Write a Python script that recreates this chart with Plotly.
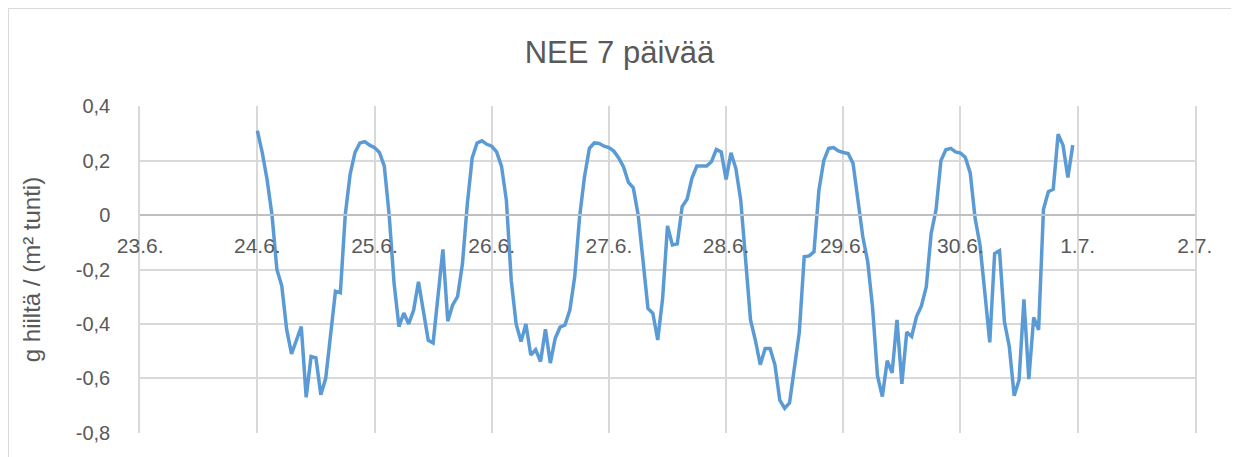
import pandas as pd
import plotly.graph_objects as go

# Hourly NEE values, 24.6. 00:00 -> 30.6. 23:00
nee = [
    0.31, 0.23, 0.13, 0.0, -0.2, -0.26, -0.42, -0.51, -0.46, -0.41,
    -0.67, -0.52, -0.525, -0.66, -0.6, -0.44, -0.28, -0.285, 0.0, 0.15,
    0.23, 0.265, 0.27, 0.257, 0.248, 0.23, 0.18, 0.0, -0.25, -0.41,
    -0.36, -0.40, -0.35, -0.245, -0.36, -0.46, -0.47, -0.30, -0.126, -0.39,
    -0.33, -0.30, -0.18, 0.04, 0.21, 0.265, 0.273, 0.26, 0.253, 0.232,
    0.18, 0.055, -0.24, -0.40, -0.465, -0.40, -0.514, -0.495, -0.538, -0.42,
    -0.544, -0.453, -0.412, -0.404, -0.349, -0.226, -0.006, 0.141, 0.245, 0.265,
    0.263, 0.253, 0.248, 0.235, 0.21, 0.177, 0.12, 0.10, 0.0, -0.17,
    -0.343, -0.361, -0.459, -0.306, -0.04, -0.11, -0.106, 0.031, 0.058, 0.135,
    0.18, 0.18, 0.18, 0.196, 0.241, 0.232, 0.131, 0.229, 0.171, 0.055,
    -0.18, -0.385, -0.46, -0.55, -0.49, -0.49, -0.55, -0.68, -0.71, -0.69,
    -0.56, -0.43, -0.153, -0.15, -0.135, 0.09, 0.2, 0.245, 0.248, 0.236,
    0.23, 0.226, 0.19, 0.06, -0.08, -0.171, -0.34, -0.59, -0.667, -0.535,
    -0.58, -0.385, -0.62, -0.43, -0.446, -0.373, -0.334, -0.263, -0.067, 0.02,
    0.2, 0.24, 0.245, 0.232, 0.228, 0.212, 0.155, -0.012, -0.11, -0.287,
    -0.468, -0.141, -0.131, -0.391, -0.483, -0.664, -0.606, -0.31, -0.603, -0.376,
    -0.422, 0.021, 0.086, 0.095, 0.297, 0.257, 0.138, 0.257,
]
start_time = "2015-06-24 00:00"
day_ticks = ["2015-06-23", "2015-06-24", "2015-06-25", "2015-06-26", "2015-06-27",
             "2015-06-28", "2015-06-29", "2015-06-30", "2015-07-01", "2015-07-02"]
day_labels = ["23.6.", "24.6.", "25.6.", "26.6.", "27.6.",
              "28.6.", "29.6.", "30.6.", "1.7.", "2.7."]
y_ticks = [-0.8, -0.6, -0.4, -0.2, 0, 0.2, 0.4]
y_labels = ["-0,8", "-0,6", "-0,4", "-0,2", "0", "0,2", "0,4"]

times = pd.date_range(start=start_time, periods=len(nee), freq="h")

fig = go.Figure()
fig.add_trace(go.Scatter(
    x=times, y=nee, mode="lines",
    line=dict(color="#5B9BD5", width=3.5),
    showlegend=False,
))

# page body has an 8px margin, so the figure is offset by (8, 8)
W, H = 1231, 449
font_family = "Liberation Sans, Arial, sans-serif"
fig.update_layout(
    width=W, height=H,
    margin=dict(l=132, r=44, t=98, b=24, autoexpand=False),
    paper_bgcolor="white", plot_bgcolor="white",
    title=dict(text="NEE 7 päivää", x=611.5 / W, xref="container",
               xanchor="center", y=1 - 44 / H, yanchor="middle",
               font=dict(family=font_family, size=31, color="#595959")),
    font=dict(family=font_family, color="#595959"),
    xaxis=dict(
        range=["2015-06-22 23:58", "2015-07-02 00:02"],
        tickvals=day_ticks, ticktext=day_labels,
        showgrid=True, gridcolor="#d9d9d9", gridwidth=1.5,
        showline=True, linecolor="#bfbfbf", linewidth=1.5,
        anchor="free", position=0.8 / 1.2,
        ticks="outside", ticklen=12, tickcolor="rgba(0,0,0,0)",
        tickfont=dict(size=21, color="#595959"),
        zeroline=False, automargin=False,
    ),
    yaxis=dict(
        range=[-0.8008, 0.4008],
        tickvals=y_ticks, ticktext=y_labels,
        showgrid=True, gridcolor="#d9d9d9", gridwidth=1.5,
        zeroline=True, zerolinecolor="#bfbfbf", zerolinewidth=1.5,
        showline=True, mirror=True, linecolor="#d9d9d9", linewidth=1.5,
        automargin=False,
        ticks="outside", ticklen=24, tickcolor="rgba(0,0,0,0)",
        tickfont=dict(size=20, color="#595959"),
        title=dict(text="g hiiltä / (m² tunti)", standoff=28,
                   font=dict(size=24, color="#595959")),
    ),
    shapes=[dict(type="rect", xref="paper", yref="paper",
                 x0=-131.5 / 1055, x1=1.06, y0=-0.2, y1=424.5 / 327,
                 line=dict(color="#d9d9d9", width=1), fillcolor="rgba(0,0,0,0)",
                 layer="below")],
)

fig.write_html("out.html")
